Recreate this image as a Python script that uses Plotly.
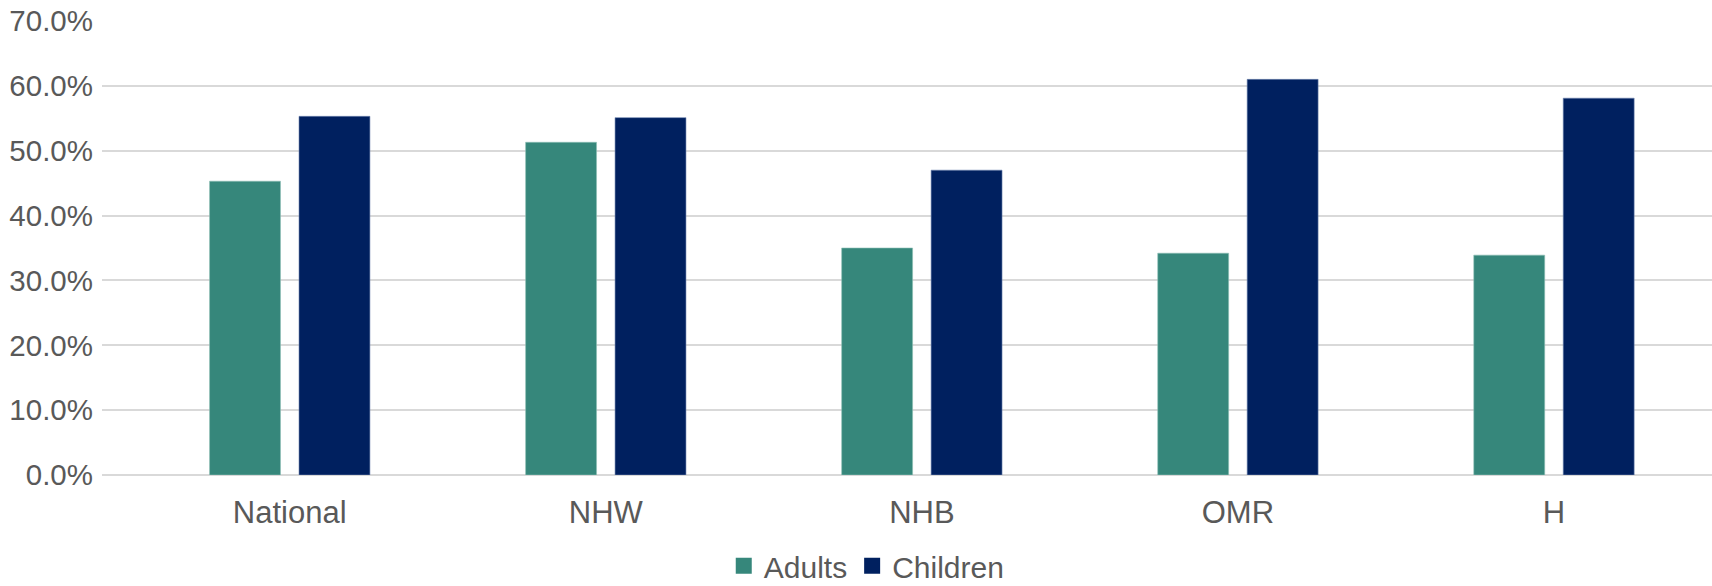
import plotly.graph_objects as go

# Share of each group (percent)
categories = ["National", "NHW", "NHB", "OMR", "H"]
adults = [45.3, 51.3, 35.0, 34.2, 33.9]
children = [55.3, 55.1, 47.0, 61.0, 58.1]
series_names = ["Adults", "Children"]
y_ticks = [0, 10, 20, 30, 40, 50, 60, 70]
y_tick_labels = [f"{v:.1f}%" for v in y_ticks]

TEAL = "#36877b"
NAVY = "#00205f"
TEXT = "#595959"
GRID = "#d9d9d9"
FONT = "Liberation Sans, Arial, sans-serif"

fig = go.Figure()
for name, values, color, edge in [
    (series_names[0], adults, TEAL, "#8fbfb6"),
    (series_names[1], children, NAVY, "#6f84b0"),
]:
    fig.add_trace(go.Bar(name=name, x=categories, y=values, showlegend=False,
                         marker=dict(color=color, line=dict(color=edge, width=0.6))))
    # legend key: square swatch
    fig.add_trace(go.Scatter(name=name, x=[None], y=[None], mode="markers",
                             marker=dict(symbol="square", size=18, color=color),
                             showlegend=True))

fig.update_layout(
    width=1712, height=586,
    margin=dict(l=102, r=0, t=21, b=111, autoexpand=False),
    paper_bgcolor="white", plot_bgcolor="white",
    barmode="group", bargap=0.434, bargroupgap=0.207,
    font=dict(family=FONT, size=31, color=TEXT),
    showlegend=True,
    legend=dict(orientation="h", x=0.475, xanchor="center", y=-0.2, yanchor="middle",
                font=dict(size=30, color=TEXT), itemwidth=30,
                traceorder="normal", itemsizing="trace"),
)
fig.update_xaxes(
    type="category", range=[-0.594, 4.5],
    showgrid=False, showline=False, ticks="",
    tickfont=dict(size=31, color=TEXT), ticklabelstandoff=16,
)
fig.update_yaxes(
    range=[0, 70], tickvals=y_ticks, ticktext=y_tick_labels,
    showgrid=True, gridcolor=GRID, gridwidth=1.8,
    zeroline=True, zerolinecolor=GRID, zerolinewidth=1.8,
    showline=False, ticks="", ticklabelstandoff=8,
    tickfont=dict(size=29.5, color=TEXT),
)

fig.write_html("out.html")
